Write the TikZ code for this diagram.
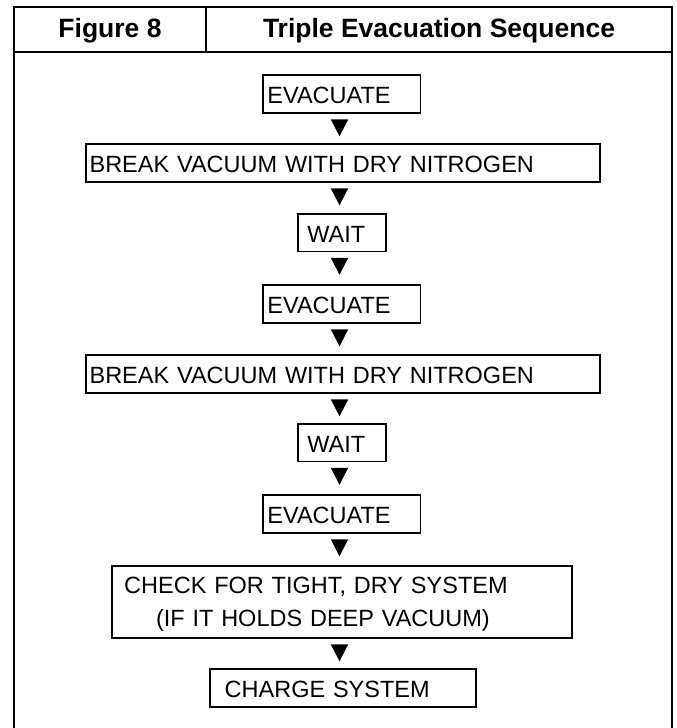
\documentclass[tikz,border=0pt]{standalone}
\usepackage{fontspec}
\setmainfont{Liberation Sans}
\usetikzlibrary{calc}
\begin{document}
\begin{tikzpicture}[x=1pt,y=-1pt,
  frame/.style={draw=black, line width=2.2pt, line join=miter},
  box/.style={draw=black, line width=1.8pt, anchor=north west, inner ysep=0pt,
    align=left, text height=19pt, text depth=0pt,
    font=\fontsize{23.5}{33}\selectfont},
  hdr/.style={font=\fontsize{26.5}{30}\selectfont\bfseries, inner sep=0pt,
    text height=19pt, text depth=0pt},
  tri/.style={fill=black}]
\useasboundingbox (0,0) rectangle (677,728);
% frame and header
\draw[frame] (14,740) -- (14,7) -- (672,7) -- (672,740);
\draw[frame] (14,52) -- (672,52);
\draw[frame] (206,7) -- (206,52);
\node[hdr] (fig) at (110,28) {Figure 8};
\node[hdr] (title) at (439,28) {Triple Evacuation Sequence};
\coordinate (axis) at (339.5,0);
% boxes
\node[box, inner xsep=4.5pt, text width=148.5pt, minimum width=157.5pt, minimum height=38pt] (ev1) at (262,74) {EVACUATE};
\node[box, inner xsep=3.7pt, text width=506.6pt, minimum width=514pt, minimum height=38pt] (br1) at (85,143) {BREAK VACUUM WITH DRY NITROGEN};
\node[box, inner xsep=9.8pt, text width=68.7pt, minimum width=88.3pt, minimum height=37.5pt] (w1) at (296.7,213) {WAIT};
\node[box, inner xsep=4.5pt, text width=148.5pt, minimum width=157.5pt, minimum height=38pt] (ev2) at (262,284) {EVACUATE};
\node[box, inner xsep=3.7pt, text width=506.6pt, minimum width=514pt, minimum height=38pt] (br2) at (85,354) {BREAK VACUUM WITH DRY NITROGEN};
\node[box, inner xsep=9.8pt, text width=68.7pt, minimum width=88.3pt, minimum height=37.5pt] (w2) at (296.7,423) {WAIT};
\node[box, inner xsep=4.5pt, text width=148.5pt, minimum width=157.5pt, minimum height=38pt] (ev3) at (262,494) {EVACUATE};
\node[box, inner xsep=12.3pt, text width=435.4pt, minimum width=460pt, minimum height=72pt, text height=17pt, text depth=33pt] (chk) at (111,565) {CHECK FOR TIGHT, DRY SYSTEM\\\hspace*{31.8pt}(IF IT HOLDS DEEP VACUUM)};
\node[box, inner xsep=14.5pt, text width=236.7pt, minimum width=265.7pt, minimum height=38pt] (chg) at (209.3,667.7) {CHARGE SYSTEM};
% arrow triangles
\foreach \n in {ev1,br1,w1,ev2,br2,w2,ev3,chk}{
  \fill[tri] ($(\n.south -| axis)+(-8.75,5.5)$) -- ++(17.5,0) -- ++(-8.75,17) -- cycle;
}
\end{tikzpicture}
\end{document}
